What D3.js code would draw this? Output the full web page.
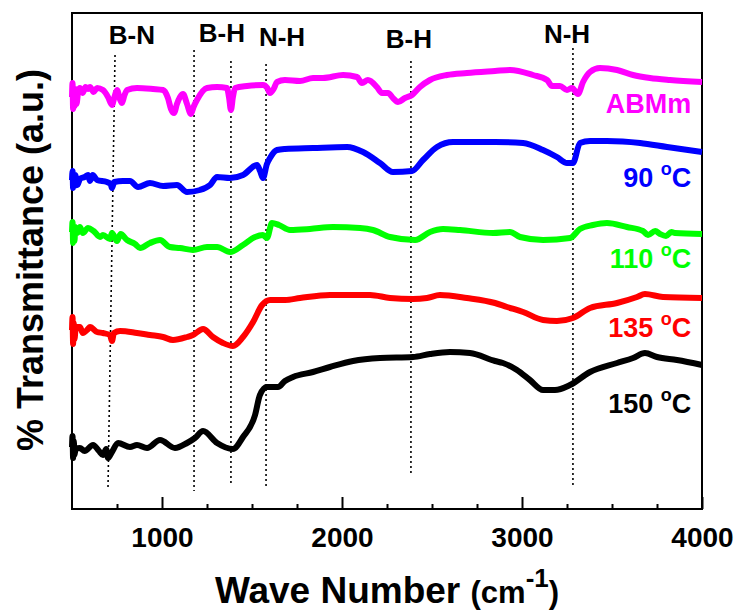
<!DOCTYPE html>
<meta charset="utf-8">
<style>
body{margin:0;background:#fff;}
text{font-family:"Liberation Sans",Arial,sans-serif;font-weight:bold;}
.frame{fill:none;stroke:#000;stroke-width:2px;}
.marker{stroke:#000;stroke-width:1.6px;stroke-dasharray:2,3;}
.spec{fill:none;stroke-width:6px;stroke-linejoin:round;}
.axis line{stroke:#000;stroke-width:2px;}
</style>
<body>
<script src="https://d3js.org/d3.v7.min.js"></script>
<script>

// spectra, [wave number, transmittance a.u.]
var abmm=[[500,412],[503,426],[506,400],[510,420],[514,403],[518,420],[525,405],[535,418],[544,421],[560,416],[575,422],[589,420],[600,422],[620,417],[639,421],[672,419],[700,412],[722,404],[736,412],[750,419],[766,410],[778,406],[790,413],[806,419],[861,421],[950,420],[1006,419],[1033,411],[1050,400],[1067,396],[1083,405],[1100,412],[1117,415],[1139,405],[1161,395],[1175,402],[1194,409],[1250,421],[1306,422],[1361,421],[1372,412],[1383,399],[1394,412],[1406,421],[1472,423],[1561,424],[1585,421],[1600,416],[1620,420],[1639,427],[1683,429],[1767,428],[1839,431],[1894,431],[2006,434],[2083,432],[2111,426],[2144,429],[2194,422],[2222,416],[2256,416],[2283,411],[2311,407],[2350,411],[2389,414],[2433,422],[2489,429],[2583,434],[2694,436],[2850,438],[2933,439],[3061,434],[3139,429],[3167,423],[3211,423],[3250,419],[3278,421],[3311,415],[3339,427],[3378,437],[3433,441],[3528,439],[3617,434],[3711,431],[3822,429],[4000,427]];
var t90=[[500,329],[503,338],[506,321],[510,334],[514,323],[518,334],[530,324],[544,330],[570,332],[589,334],[600,328],[615,334],[639,329],[694,327],[715,325],[722,321],[735,327],[783,328],[822,328],[867,322],[933,326],[1006,323],[1083,324],[1139,317],[1211,319],[1267,324],[1306,332],[1378,331],[1450,334],[1528,344],[1545,338],[1561,331],[1583,345],[1600,351],[1639,359],[1683,360],[1839,361],[2028,362],[2117,357],[2211,346],[2283,337],[2389,338],[2450,349],[2528,362],[2617,367],[2850,367],[3006,366],[3117,359],[3194,352],[3250,346],[3283,346],[3322,366],[3378,368],[3472,368],[3656,366],[3806,362],[4000,357]];
var t110=[[500,277],[503,287],[506,266],[510,282],[514,268],[518,282],[530,276],[544,282],[560,276],[589,281],[620,278],[656,272],[672,274],[711,270],[722,276],[750,268],[770,275],[806,269],[850,265],[878,261],[933,266],[989,269],[1044,262],[1100,261],[1172,259],[1250,262],[1306,262],[1378,257],[1450,264],[1517,272],[1561,274],[1583,271],[1611,286],[1650,284],[1711,279],[1822,280],[1950,282],[2100,281],[2172,279],[2267,272],[2406,269],[2489,277],[2561,280],[2656,279],[2839,276],[2933,277],[2989,272],[3117,269],[3267,271],[3322,280],[3394,284],[3472,286],[3583,282],[3672,278],[3700,274],[3740,278],[3767,275],[3800,273],[3830,277],[3850,276],[4000,275]];
var t135=[[500,179],[503,192],[506,165],[510,186],[514,170],[520,180],[530,182],[544,182],[560,176],[589,180],[600,182],[639,177],[672,176],[711,174],[722,168],[733,176],[767,178],[861,176],[933,174],[1006,172],[1061,169],[1139,172],[1172,174],[1228,180],[1283,172],[1339,166],[1394,163],[1450,172],[1506,187],[1556,204],[1600,209],[1683,209],[1767,211],[1933,214],[2156,214],[2267,211],[2394,210],[2472,211],[2544,214],[2694,211],[2850,206],[2917,202],[3006,197],[3117,189],[3194,188],[3283,191],[3378,201],[3528,206],[3639,212],[3683,215],[3783,212],[4000,211]];
var t150=[[500,62],[503,73],[506,51],[510,68],[514,54],[520,60],[544,61],[570,58],[617,64],[650,58],[672,54],[690,60],[700,51],[722,57],[756,66],[822,62],[861,64],[917,61],[989,69],[1072,61],[1139,66],[1183,71],[1228,78],[1306,66],[1394,60],[1450,72],[1517,94],[1544,114],[1583,122],[1644,122],[1683,128],[1728,132],[1839,137],[1933,142],[2061,148],[2211,151],[2394,152],[2489,155],[2600,157],[2711,156],[2850,148],[2894,146],[2972,139],[3044,129],[3117,119],[3183,119],[3267,124],[3378,137],[3528,146],[3617,151],[3683,156],[3750,152],[3861,149],[4000,144]];

var names=["ABMm","90","110","135","150"];
var colors=["#ff00ff","#0000ff","#00ff00","#ff0000","#000000"];
var labelY=[396,322,241,172,96];

// band markers: label, wave number top / bottom, line extent
var bands=["B-N","B-H","B-H","N-H","B-H","N-H"];
var bandTop=[739,1178,1383,1578,2383,3283];
var bandBot=[700,1178,1383,1578,2383,3283];
var bandY1=[454,459,448,445,448,461];
var bandY2=[21,18,25,21,34,21];
var bandLabelX=[833,1333,null,1667,2372,3250];
var bandLabelY=[465,467,null,463,461,466];

var majorTicks=[1000,2000,3000,4000];

var svg=d3.select("body").append("svg").attr("width",737).attr("height",612);

var x=d3.scaleLinear().domain([500,4000]).range([72,702]);
var y=d3.scaleLinear().domain([0,496]).range([509,13]);

var minor=d3.range(750,4000,250).filter(d=>majorTicks.indexOf(d)<0);

svg.append("g").attr("class","axis")
	.attr("transform","translate(0,509)")
	.call(d3.axisBottom(x).tickValues(minor).tickSize(-5).tickFormat(""))
	.call(g=>g.select(".domain").remove());

svg.append("g").attr("class","axis")
	.attr("transform","translate(0,509)")
	.call(d3.axisBottom(x).tickValues(majorTicks).tickSize(-12).tickPadding(18).tickFormat(d3.format("d")))
	.call(g=>g.select(".domain").remove())
	.call(g=>g.selectAll("text").attr("font-size",28).attr("font-family",null));

svg.append("rect").attr("class","frame")
	.attr("x",72).attr("y",13).attr("width",630).attr("height",496);

// dotted band lines
bands.forEach(function(b,i){
	svg.append("line").attr("class","marker")
		.attr("x1",x(bandTop[i])).attr("y1",y(bandY1[i]))
		.attr("x2",x(bandBot[i])).attr("y2",y(bandY2[i]));
	if(bandLabelX[i]!=null)
		svg.append("text")
			.attr("x",x(bandLabelX[i])).attr("y",y(bandLabelY[i]))
			.attr("text-anchor","middle").attr("font-size",26)
			.text(b);
});

var line=d3.line().x(d=>x(d[0])).y(d=>y(d[1])).curve(d3.curveMonotoneX);
[abmm,t90,t110,t135,t150].forEach(function(s,i){
	svg.append("path").attr("class","spec")
		.attr("stroke",colors[i])
		.attr("d",line(s));
});

// series labels
names.forEach(function(n,i){
	var t=svg.append("text")
		.attr("x",x(3940)).attr("y",y(labelY[i]))
		.attr("text-anchor","end").attr("font-size",27)
		.attr("fill",colors[i]);
	if(n=="ABMm"){ t.text(n); return; }
	t.append("tspan").text(n+" ");
	t.append("tspan").attr("font-size",18).attr("dy",-12).text("o");
	t.append("tspan").attr("dy",12).text("C");
});

// axis titles
var xt=svg.append("text").attr("x",387).attr("y",603).attr("text-anchor","middle").attr("font-size",37);
xt.append("tspan").text("Wave Number ");
xt.append("tspan").attr("font-size",31).text("(cm");
xt.append("tspan").attr("font-size",26).attr("dy",-16).text("-1");
xt.append("tspan").attr("font-size",31).attr("dy",16).text(")");

svg.append("text")
	.attr("transform","translate(43,260) rotate(-90)")
	.attr("text-anchor","middle").attr("font-size",36)
	.text("% Transmittance (a.u.)");

</script>
</body>
</html>
